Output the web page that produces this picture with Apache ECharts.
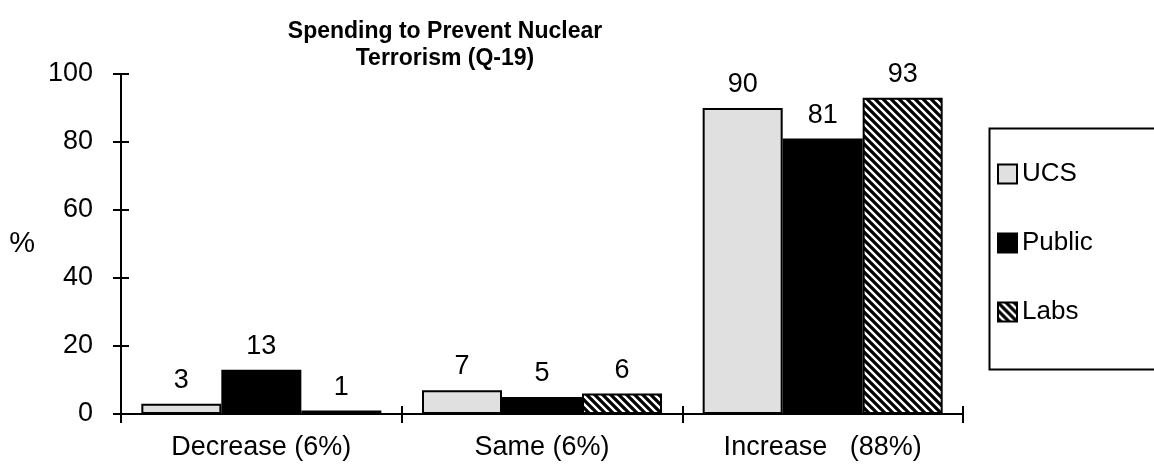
<!DOCTYPE html>
<html><head><meta charset="utf-8">
<script src="https://cdn.jsdelivr.net/npm/echarts@6/dist/echarts.min.js"></script>
<style>html,body{margin:0;padding:0;background:#fff}#c{width:1154px;height:474px}</style>
</head><body><div id="c"></div>
<script>
const categories = ['Decrease (6%)', 'Same (6%)', 'Increase   (88%)'];
const ucs = [3, 7, 90];
const publicVals = [13, 5, 81];
const labs = [1, 6, 93];
const yTicks = { min: 0, max: 100, interval: 20 };
const titleText = 'Spending to Prevent Nuclear\nTerrorism (Q-19)';

function hatch() {
  const s = 8;
  const c = document.createElement('canvas');
  c.width = s; c.height = s;
  const g = c.getContext('2d');
  g.fillStyle = '#fff'; g.fillRect(0, 0, s, s);
  g.strokeStyle = '#000'; g.lineWidth = 3.2;
  g.beginPath();
  for (let k = -1; k <= 1; k++) {
    g.moveTo(k * s - 1, -1); g.lineTo(k * s + s + 1, s + 1);
  }
  g.stroke();
  return { image: c, repeat: 'repeat' };
}
const FONT = 'Liberation Sans, Arial, sans-serif';
const FS = 27;
const chart = echarts.init(document.getElementById('c'), null, { renderer: 'canvas' });
const lbl = { show: true, position: 'top', distance: 10, fontSize: FS, color: '#000', fontFamily: FONT };
chart.setOption({
  animation: false,
  backgroundColor: '#fff',
  textStyle: { fontFamily: FONT, color: '#000' },
  title: {
    text: titleText, left: 440, top: 13, textAlign: 'center',
    textStyle: { fontSize: 23, fontWeight: 'bold', color: '#000', lineHeight: 27, fontFamily: FONT }
  },
  grid: { left: 121, right: 191, top: 74, bottom: 60, containLabel: false, outerBoundsMode: 'none' },
  legend: {
    orient: 'vertical', left: 997, top: 161, itemWidth: 19, itemHeight: 19, itemGap: 43, padding: 0,
    icon: 'rect',
    textStyle: { fontSize: 26, color: '#000', fontFamily: FONT, padding: [0, 0, 0, 0] },
    data: ['UCS', 'Public', 'Labs']
  },
  graphic: [{
    type: 'rect', left: 987, top: 126, z: 0,
    shape: { width: 180, height: 241 },
    style: { fill: 'none', stroke: '#000', lineWidth: 2 }
  }],
  xAxis: [{
    type: 'category', data: categories, position: 'bottom',
    axisLine: { lineStyle: { color: '#000', width: 2 } },
    axisTick: { show: true, alignWithLabel: false, length: 9, lineStyle: { color: '#000', width: 2 } },
    axisLabel: { color: '#000', fontSize: FS, margin: 20, fontFamily: FONT }
  }, {
    type: 'category', data: categories, position: 'bottom',
    axisLine: { show: false },
    axisTick: { show: true, inside: true, length: 8, lineStyle: { color: '#000', width: 2 } },
    axisLabel: { show: false }
  }],
  yAxis: [{
    type: 'value', min: yTicks.min, max: yTicks.max, interval: yTicks.interval,
    name: '%', nameLocation: 'middle', nameRotate: 0, nameGap: 86,
    nameTextStyle: { fontSize: 29, color: '#000', fontFamily: FONT },
    axisLine: { show: true, lineStyle: { color: '#000', width: 2 } },
    axisTick: { show: true, length: 8, lineStyle: { color: '#000', width: 2 } },
    axisLabel: { color: '#000', fontSize: FS, margin: 28, fontFamily: FONT },
    splitLine: { show: false }
  }, {
    type: 'value', min: yTicks.min, max: yTicks.max, interval: yTicks.interval, position: 'left',
    axisLine: { show: false },
    axisTick: { show: true, inside: true, length: 8, lineStyle: { color: '#000', width: 2 } },
    axisLabel: { show: false }, splitLine: { show: false }
  }],
  series: [
    { name: 'UCS', type: 'bar', data: ucs, barWidth: 80, barGap: '0%',
      itemStyle: { color: '#e0e0e0', borderColor: '#000', borderWidth: 2 }, label: lbl },
    { name: 'Public', type: 'bar', data: publicVals, barWidth: 80, barGap: '0%',
      itemStyle: { color: '#000', borderColor: '#000', borderWidth: 2 }, label: lbl },
    { name: 'Labs', type: 'bar', data: labs, barWidth: 80, barGap: '0%',
      itemStyle: { color: hatch(), borderColor: '#000', borderWidth: 2 }, label: lbl }
  ]
});
</script></body></html>
